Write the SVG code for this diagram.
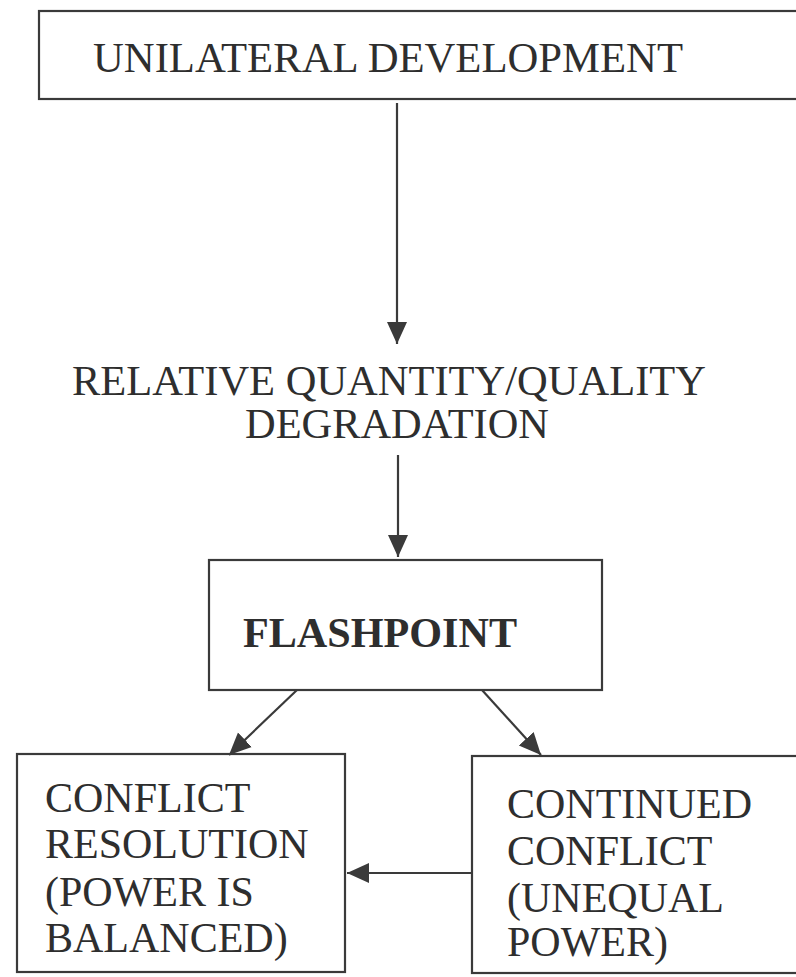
<svg xmlns="http://www.w3.org/2000/svg" width="796" height="977" viewBox="0 0 796 977">
<style>
.box{fill:#fff;stroke:#3a3a3a;stroke-width:2.2}
.t{font-family:"Liberation Serif","Times New Roman",serif;font-size:42px;fill:#2e2e2e}
.b{font-weight:bold}
.c{stroke:#3a3a3a;stroke-width:2.2;fill:none}
</style>
<defs>
<marker id="ah" markerUnits="userSpaceOnUse" markerWidth="24" markerHeight="22" viewBox="0 0 24 22" refX="22" refY="11" orient="auto">
<path d="M0,1 L22,11 L0,21 Z" fill="#3a3a3a"/>
</marker>
</defs>
<rect width="796" height="977" fill="#fff"/>
<g id="unilateral">
<rect class="box" x="39" y="11" width="770" height="88"/>
<text class="t" x="93" y="72" textLength="590" lengthAdjust="spacingAndGlyphs">UNILATERAL DEVELOPMENT</text>
</g>
<g id="degradation">
<text class="t" x="72" y="395" textLength="634" lengthAdjust="spacingAndGlyphs">RELATIVE QUANTITY/QUALITY</text>
<text class="t" x="245" y="438" textLength="304" lengthAdjust="spacingAndGlyphs">DEGRADATION</text>
</g>
<g id="flashpoint">
<rect class="box" x="209" y="560" width="393" height="130"/>
<text class="t b" x="243" y="647" textLength="274" lengthAdjust="spacingAndGlyphs">FLASHPOINT</text>
</g>
<g id="resolution">
<rect class="box" x="17" y="754" width="328" height="218"/>
<text class="t" x="45" y="812">CONFLICT</text>
<text class="t" x="45" y="858">RESOLUTION</text>
<text class="t" x="45" y="906">(POWER IS</text>
<text class="t" x="45" y="952">BALANCED)</text>
</g>
<g id="continued">
<rect class="box" x="472" y="756" width="340" height="217"/>
<text class="t" x="507" y="818">CONTINUED</text>
<text class="t" x="507" y="865">CONFLICT</text>
<text class="t" x="507" y="912">(UNEQUAL</text>
<text class="t" x="507" y="956">POWER)</text>
</g>
<g id="connectors">
<line class="c" x1="397" y1="103" x2="397" y2="344" marker-end="url(#ah)"/>
<line class="c" x1="398" y1="455" x2="398" y2="557" marker-end="url(#ah)"/>
<line class="c" x1="297" y1="690" x2="229" y2="755" marker-end="url(#ah)"/>
<line class="c" x1="482" y1="690" x2="541" y2="755" marker-end="url(#ah)"/>
<line class="c" x1="472" y1="873" x2="347" y2="873" marker-end="url(#ah)"/>
</g>
</svg>
